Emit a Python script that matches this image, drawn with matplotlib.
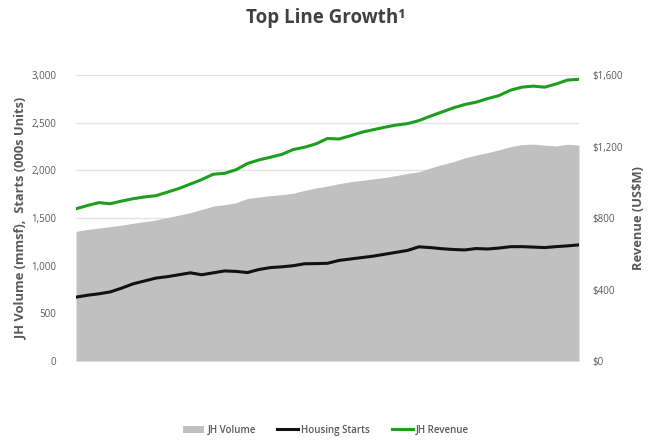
import matplotlib
matplotlib.use("Agg")
from matplotlib import pyplot as plt
from matplotlib.lines import Line2D
from matplotlib.patches import Patch
from matplotlib.ticker import FuncFormatter
import numpy as np

# JH volume (mmsf), housing starts (000s units) -> left axis; revenue (US$M) -> right axis
jh_volume = [
    1360, 1380, 1395, 1410, 1425, 1445, 1462, 1480, 1505, 1530,
    1556, 1590, 1625, 1640, 1660, 1705, 1720, 1735, 1745, 1760,
    1790, 1815, 1835, 1860, 1880, 1895, 1910, 1925, 1945, 1968,
    1985, 2025, 2060, 2090, 2130, 2160, 2185, 2215, 2248, 2270,
    2276, 2264, 2256, 2274, 2266,
]
housing_starts = [
    670, 690, 705, 725, 765, 810, 840, 870, 885, 905,
    925, 905, 925, 945, 940, 928, 960, 980, 988, 1000,
    1020, 1022, 1025, 1055, 1070, 1085, 1100, 1120, 1140, 1160,
    1198, 1190, 1178, 1170, 1165, 1180, 1175, 1185, 1199, 1200,
    1195, 1190, 1200, 1208, 1218,
]
jh_revenue = [
    852, 870, 886, 880, 895, 908, 918, 925, 945, 965,
    990, 1015, 1045, 1050, 1070, 1105, 1125, 1140, 1156, 1183,
    1196, 1215, 1245, 1242, 1260, 1280, 1294, 1308, 1320, 1328,
    1345, 1370, 1393, 1416, 1435, 1448, 1468, 1485, 1515, 1532,
    1538, 1532, 1550, 1572, 1576,
]
left_ticks = [0, 500, 1000, 1500, 2000, 2500, 3000]
right_ticks = [0, 400, 800, 1200, 1600]

GREY_TEXT = "#595959"
AREA = "#c0c0c0"
GREEN = "#1e9e1e"

plt.rcParams["font.family"] = ["Open Sans", "DejaVu Sans"]

fig = plt.figure(figsize=(6.52, 4.4), dpi=100)
ax = fig.add_axes([0.1166, 0.1795, 0.7714, 0.65])
ax2 = ax.twinx()

x = np.arange(len(jh_volume))

ax.fill_between(x, 0, jh_volume, color=AREA, linewidth=0, zorder=2)
ax.plot(x, housing_starts, color="#111111", linewidth=2.2, zorder=3)
ax2.plot(x, jh_revenue, color=GREEN, linewidth=2.2, zorder=3)

ax.set_xlim(0, len(x) - 1)
ax.set_ylim(0, 3000)
ax2.set_ylim(0, 1600)
ax.set_yticks(left_ticks)
ax2.set_yticks(right_ticks)
ax.yaxis.set_major_formatter(FuncFormatter(lambda v, _: f"{int(v):,}"))
ax2.yaxis.set_major_formatter(FuncFormatter(lambda v, _: f"\\${int(v):,}"))

ax.grid(axis="y", color="#e3e3e3", linewidth=1.0, zorder=0)
ax.set_axisbelow(True)
ax.set_xticks([])
for a in (ax, ax2):
    for s in a.spines.values():
        s.set_visible(False)
    a.tick_params(axis="y", length=0, labelsize=7, labelcolor=GREY_TEXT)
ax.tick_params(axis="y", pad=14)
ax2.tick_params(axis="y", pad=10)

ax.set_ylabel("JH Volume (mmsf),  Starts (000s Units)", fontsize=9.3,
              color=GREY_TEXT, fontweight="bold", labelpad=3)
ax2.set_ylabel("Revenue (US\\$M)", fontsize=9.3, color=GREY_TEXT,
               fontweight="bold", labelpad=6)

fig.text(0.5, 0.958, "Top Line Growth¹", ha="center", va="center",
         fontsize=13.5, fontweight="bold", color="#404040")

handles = [
    Patch(facecolor=AREA, edgecolor="none"),
    Line2D([], [], color="#111111", linewidth=2.2),
    Line2D([], [], color=GREEN, linewidth=2.2),
]
fig.legend(handles, ["JH Volume", "Housing Starts", "JH Revenue"],
           loc="center", bbox_to_anchor=(0.5, 0.022), ncol=3, frameon=False,
           prop={"size": 7, "weight": "semibold"}, labelcolor=GREY_TEXT,
           handlelength=2.2, handletextpad=0.3, columnspacing=2.2)

fig.savefig("out.png", dpi=100)
